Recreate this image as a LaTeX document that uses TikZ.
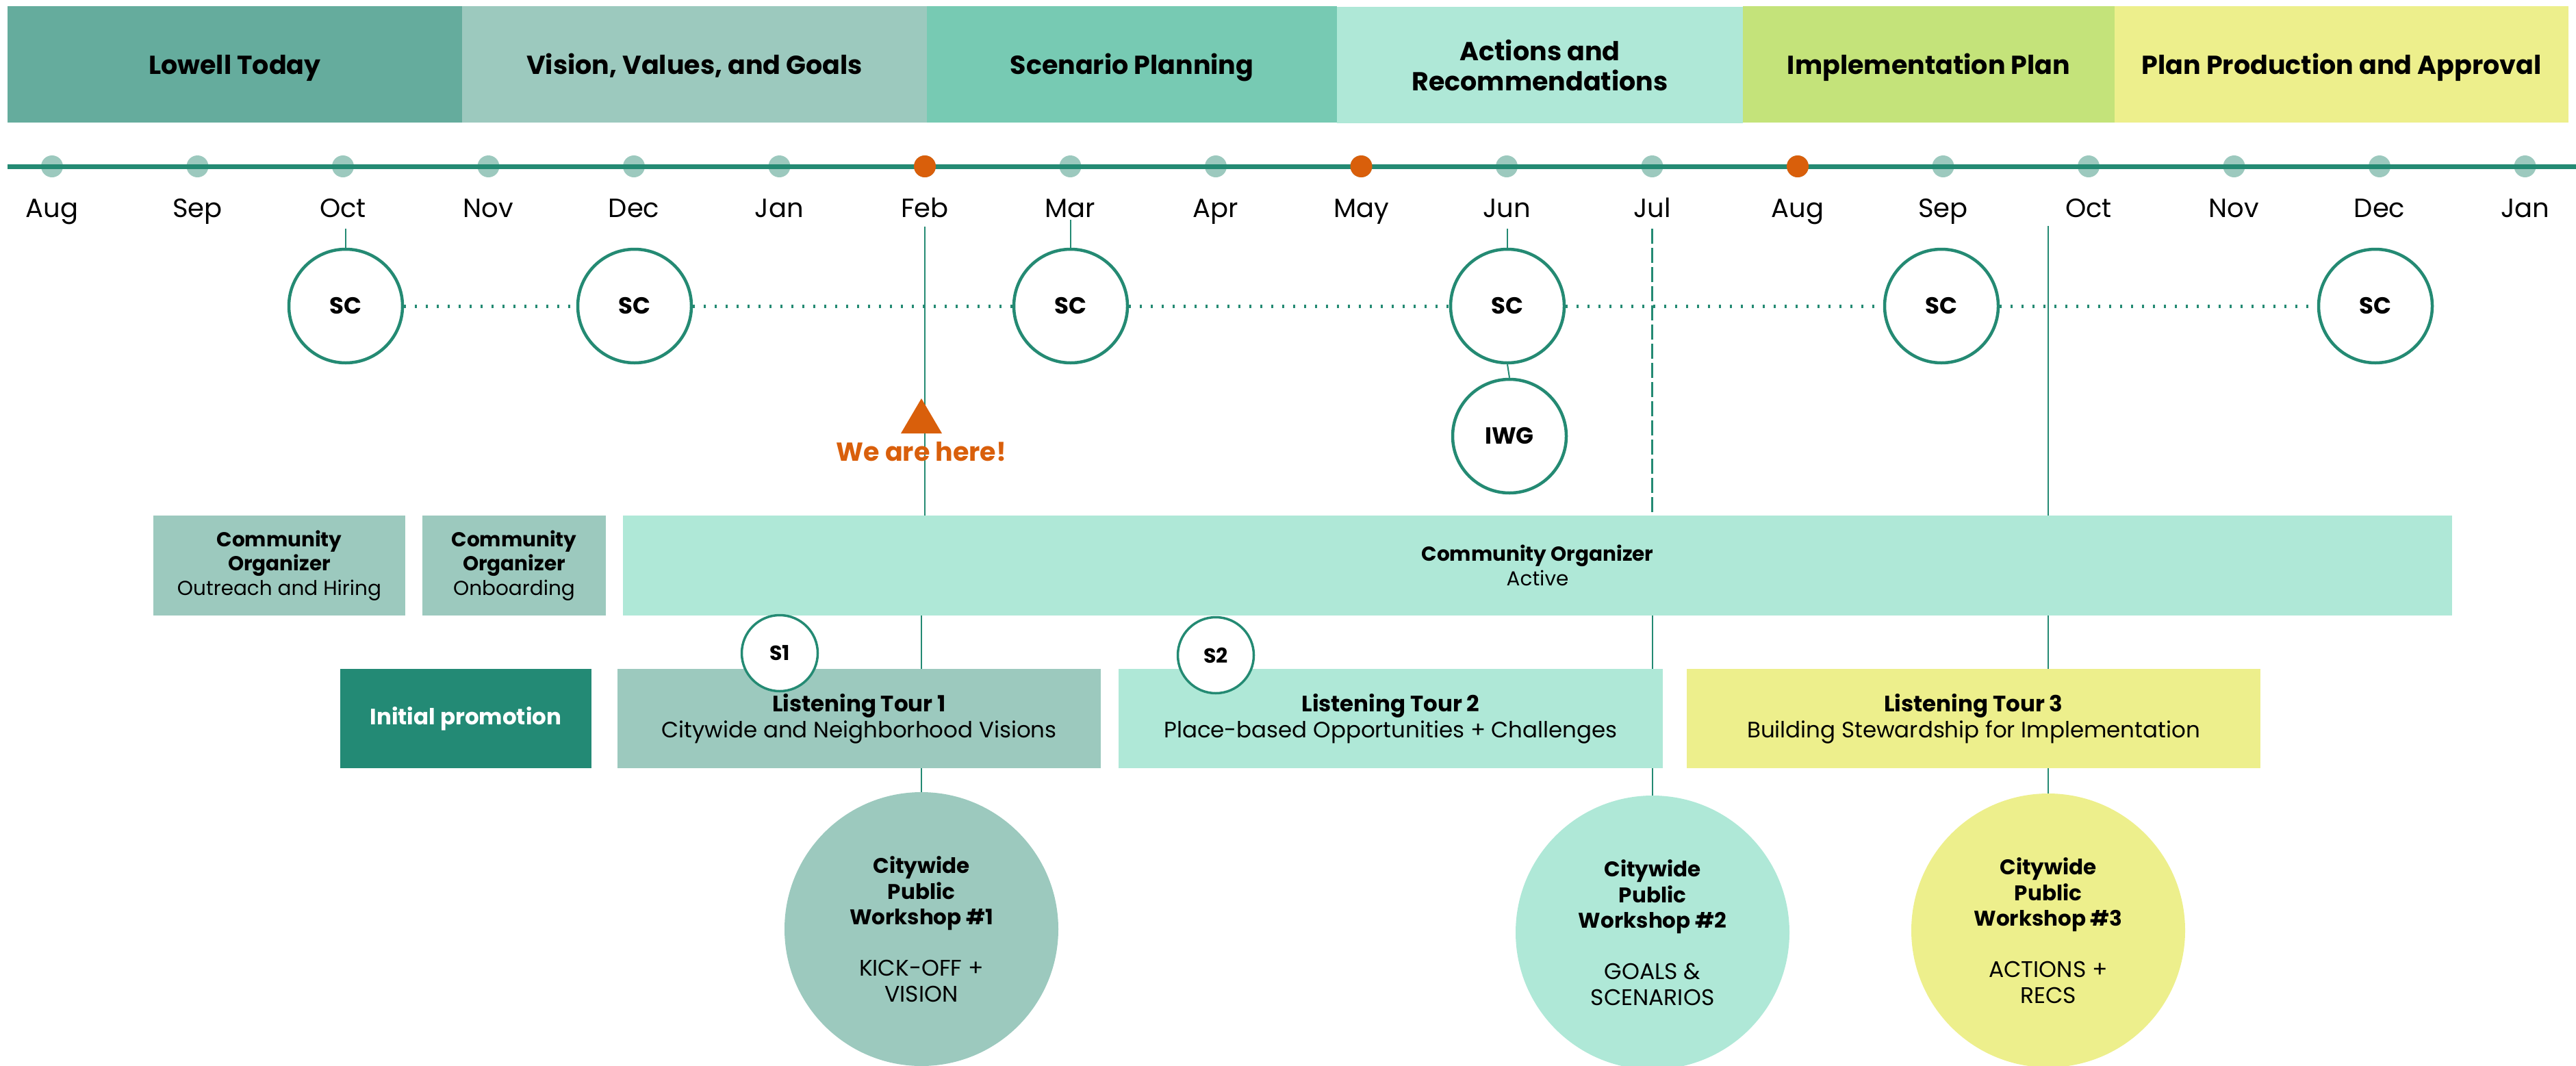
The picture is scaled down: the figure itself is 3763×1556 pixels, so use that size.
\documentclass[tikz,border=0pt]{standalone}
\usepackage{fontspec}
\setmainfont{Poppins}
\definecolor{cDark}{HTML}{65AC9D}
\definecolor{cGrey}{HTML}{9CC9BE}
\definecolor{cMid}{HTML}{77CAB3}
\definecolor{cLight}{HTML}{AFE8D7}
\definecolor{cLime}{HTML}{C4E37A}
\definecolor{cYellow}{HTML}{EDEF8C}
\definecolor{cTeal}{HTML}{248A73}
\definecolor{cOrange}{HTML}{D95F0B}
\definecolor{cPromo}{HTML}{238A75}
\begin{document}
\begin{tikzpicture}[x=1pt,y=-1pt,
  hdr/.style={rectangle, inner sep=0pt, minimum height=170pt, align=center, text=black, font=\fontsize{38}{44}\selectfont\bfseries},
  hdrone/.style={hdr, text height=37pt, text depth=8pt},
  month/.style={inner sep=0pt, anchor=base, text height=28pt, text depth=8pt, font=\fontsize{38.5}{44}\selectfont},
  mdot/.style={circle, fill=cGrey, minimum size=32pt, inner sep=0pt},
  odot/.style={circle, fill=cOrange, minimum size=32pt, inner sep=0pt},
  sc/.style={circle, draw=cTeal, line width=4.5pt, fill=white, minimum size=166pt, inner sep=0pt, font=\fontsize{34}{40}\selectfont\bfseries},
  sm/.style={circle, draw=cTeal, line width=3.5pt, fill=white, minimum size=111pt, inner sep=0pt, font=\fontsize{30}{35}\selectfont\bfseries},
  co/.style={rectangle, inner sep=0pt, minimum height=146pt, align=center, fill=cGrey, font=\fontsize{29.5}{35.5}\selectfont},
  lt/.style={rectangle, inner sep=0pt, minimum height=145pt, align=center, font=\fontsize{32.5}{38}\selectfont},
  ws/.style={circle, inner sep=0pt, minimum size=400pt, align=center, font=\fontsize{31}{37.5}\selectfont},
  wcap/.style={font=\fontsize{33}{37.5}\selectfont},
  conn/.style={draw=cTeal, line width=2pt},
  dashconn/.style={draw=cTeal, line width=2.5pt, dash pattern=on 22pt off 6pt},
  dotline/.style={draw=cTeal, line width=5pt, dash pattern=on 3pt off 13pt},
]
\useasboundingbox (0,0) rectangle (3763,1556);

% header phases
\node[hdrone, fill=cDark,   minimum width=664pt] (h1) at (343,94)    {Lowell Today};
\node[hdrone, fill=cGrey,   minimum width=679pt] (h2) at (1014.5,94) {Vision, Values, and Goals};
\node[hdrone, fill=cMid,    minimum width=599pt] (h3) at (1653.5,94) {Scenario Planning};
\node[hdr,    fill=cLight,  minimum width=593pt] (h4) at (2249.5,95) {Actions and\\Recommendations};
\node[hdrone, fill=cLime,   minimum width=543pt] (h5) at (2817.5,94) {Implementation Plan};
\node[hdrone, fill=cYellow, minimum width=663pt] (h6) at (3420.5,94) {Plan Production and Approval};

% timeline
\coordinate (tlA) at (11,243);
\coordinate (tlB) at (3763,243);
\foreach \m [count=\i from 0] in {Aug,Sep,Oct,Nov,Dec,Jan,Feb,Mar,Apr,May,Jun,Jul,Aug,Sep,Oct,Nov,Dec,Jan}{
  \node[mdot] (d\i) at ({76+212.5*\i},243) {};
  \node[month] (m\i) at ({76+212.5*\i},317) {\m};
}
\draw[cTeal, line width=7pt] (tlA) -- (tlB);
\node[odot] (o6) at (d6) {};
\node[odot] (o9) at (d9) {};
\node[odot] (o12) at (d12) {};

% workshop circles
\node[ws, fill=cGrey]   (w1) at (1346,1357) {\textbf{Citywide}\\\textbf{Public}\\\textbf{Workshop \#1}\\[37.5pt]{\fontsize{33}{37.5}\selectfont KICK-OFF +}\\{\fontsize{33}{37.5}\selectfont VISION}};
\node[ws, fill=cLight]  (w2) at (2414,1362) {\textbf{Citywide}\\\textbf{Public}\\\textbf{Workshop \#2}\\[37.5pt]{\fontsize{33}{37.5}\selectfont GOALS \&}\\{\fontsize{33}{37.5}\selectfont SCENARIOS}};
\node[ws, fill=cYellow] (w3) at (2992,1359) {\textbf{Citywide}\\\textbf{Public}\\\textbf{Workshop \#3}\\[37.5pt]{\fontsize{33}{37.5}\selectfont ACTIONS +}\\{\fontsize{33}{37.5}\selectfont RECS}};

% steering committee
\node[sc] (sc1) at (505,447)  {SC};
\node[sc] (sc2) at (927,447)  {SC};
\node[sc] (sc3) at (1564,447) {SC};
\node[sc] (sc4) at (2202,447) {SC};
\node[sc] (sc5) at (2836,447) {SC};
\node[sc] (sc6) at (3470,447) {SC};
\node[sc] (iwg) at (2205,637) {IWG};

\draw[dotline] (sc1.east) -- (sc2.west);
\draw[dotline] (sc2.east) -- (sc3.west);
\draw[dotline] (sc3.east) -- (sc4.west);
\draw[dotline] (sc4.east) -- (sc5.west);
\draw[dotline] (sc5.east) -- (sc6.west);

\draw[conn, shorten <=9pt] (sc1.north |- m2.south) -- (sc1.north);
\draw[conn, shorten <=-4pt] (sc3.north |- m7.south) -- (sc3.north);
\draw[conn, shorten <=9pt] (sc4.north |- m10.south) -- (sc4.north);
\draw[conn] (sc4.south) -- (iwg.north);

% community organizer boxes
\node[co] (co1) at (408,826)  [minimum width=368pt] {\textbf{Community}\\\textbf{Organizer}\\Outreach and Hiring};
\node[co] (co2) at (751,826)  [minimum width=268pt] {\textbf{Community}\\\textbf{Organizer}\\Onboarding};
\node[co, fill=cLight] (co3) at (2246,826) [minimum width=2672pt] {\textbf{Community Organizer}\\Active};

% listening tours
\node[lt, fill=cPromo, text=white, minimum width=367pt, font=\fontsize{32.5}{38}\selectfont\bfseries] (ip) at (680.5,1049.5) {Initial promotion};
\node[lt, fill=cGrey,   minimum width=706pt] (lt1) at (1255,1049.5)   {\textbf{Listening Tour 1}\\Citywide and Neighborhood Visions};
\node[lt, fill=cLight,  minimum width=795pt] (lt2) at (2031.5,1049.5) {\textbf{Listening Tour 2}\\Place-based Opportunities + Challenges};
\node[lt, fill=cYellow, minimum width=838pt] (lt3) at (2883,1049.5)   {\textbf{Listening Tour 3}\\Building Stewardship for Implementation};

% vertical milestone connectors
\draw[conn, shorten <=6pt] (m6.south) -- (m6.south |- co3.north);
\draw[dashconn, shorten <=9pt] (m11.south) -- (m11.south |- co3.north);
\draw[conn, shorten <=5pt] (w3.north |- m14.south) -- (w3.north |- co3.north);
\draw[conn] (w1.north |- co3.south) -- (w1.north |- lt1.north);
\draw[conn] (w2.north |- co3.south) -- (w2.north |- lt2.north);
\draw[conn] (w3.north |- co3.south) -- (w3.north |- lt3.north);
\draw[conn] (w1.north |- lt1.south) -- (w1.north);
\draw[conn] (w2.north |- lt2.south) -- (w2.north);
\draw[conn] (w3.north |- lt3.south) -- (w3.north);

% sessions
\node[sm] (s1) at (1139,954) {S1};
\node[sm] (s2) at (1776,957) {S2};

% we are here
\fill[cOrange] (1316,633) -- (1346,582) -- (1376,633) -- cycle;
\node[text=cOrange, font=\fontsize{38}{44}\selectfont\bfseries, inner sep=0pt] (here) at (1346,660) {We are here!};
\end{tikzpicture}
\end{document}
